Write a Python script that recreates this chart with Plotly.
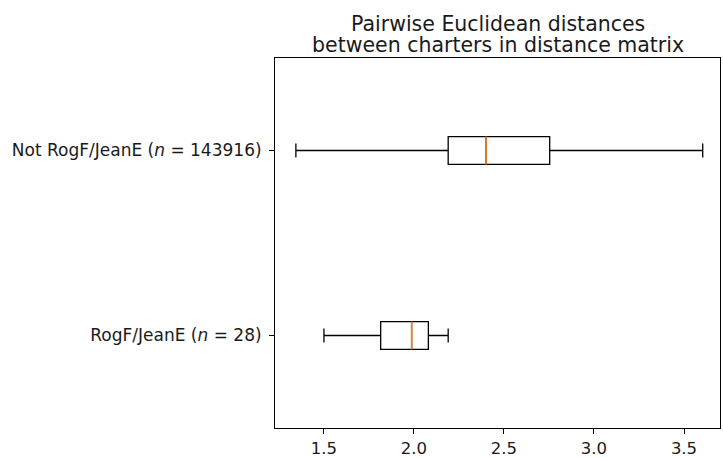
import plotly.graph_objects as go

labels = ["RogF/JeanE (<i>n</i> = 28)", "Not RogF/JeanE (<i>n</i> = 143916)"]
positions = [1, 2]
lower_whisker = [1.50, 1.344]
q1 = [1.815, 2.19]
median = [1.987, 2.40]
q3 = [2.08, 2.754]
upper_whisker = [2.19, 3.604]
x_ticks = [1.5, 2.0, 2.5, 3.0, 3.5]
title_lines = ["Pairwise Euclidean distances", "between charters in distance matrix"]

box_width = 0.15
font_family = "DejaVu Sans, sans-serif"

fig = go.Figure()
fig.add_trace(go.Box(
    y=positions, q1=q1, median=median, q3=q3,
    lowerfence=lower_whisker, upperfence=upper_whisker,
    orientation="h", width=box_width, whiskerwidth=0.5,
    fillcolor="rgba(0,0,0,0)", line=dict(color="black", width=1.3),
    boxpoints=False, showlegend=False, hoverinfo="skip",
))
for p, m in zip(positions, median):
    fig.add_trace(go.Scatter(
        x=[m, m], y=[p - box_width / 2, p + box_width / 2],
        mode="lines", line=dict(color="#ff7f0e", width=1.6),
        showlegend=False, hoverinfo="skip",
    ))

fig.update_layout(
    width=723, height=457,
    margin=dict(l=275, r=3, t=58, b=29),
    paper_bgcolor="white", plot_bgcolor="white",
    font=dict(family=font_family, size=17, color="#1a1a1a"),
    boxmode="overlay",
)
fig.update_xaxes(
    range=[1.228, 3.7], tickvals=x_ticks, ticktext=[f"{v:.1f}" for v in x_ticks],
    showgrid=False, zeroline=False, showline=True, linecolor="black", linewidth=1,
    mirror=True, ticks="outside", ticklen=5, tickcolor="black",
    tickfont=dict(size=16.5), ticklabelstandoff=0, automargin=False,
)
fig.update_yaxes(
    range=[0.5, 2.5], tickvals=positions, ticktext=labels,
    showgrid=False, zeroline=False, showline=True, linecolor="black", linewidth=1,
    mirror=True, ticks="outside", ticklen=5, tickcolor="black",
    ticklabelstandoff=4, automargin=False,
)
for i, line in enumerate(title_lines):
    fig.add_annotation(
        text=line, xref="paper", yref="paper", x=0.5, y=1,
        xanchor="center", yanchor="bottom", yshift=(len(title_lines) - 1 - i) * 20.5 - 1,
        showarrow=False, font=dict(family=font_family, size=20.5, color="#1a1a1a"),
    )
fig.write_html("out.html", config={"displayModeBar": False},
               post_script="document.body.style.margin='0';")
